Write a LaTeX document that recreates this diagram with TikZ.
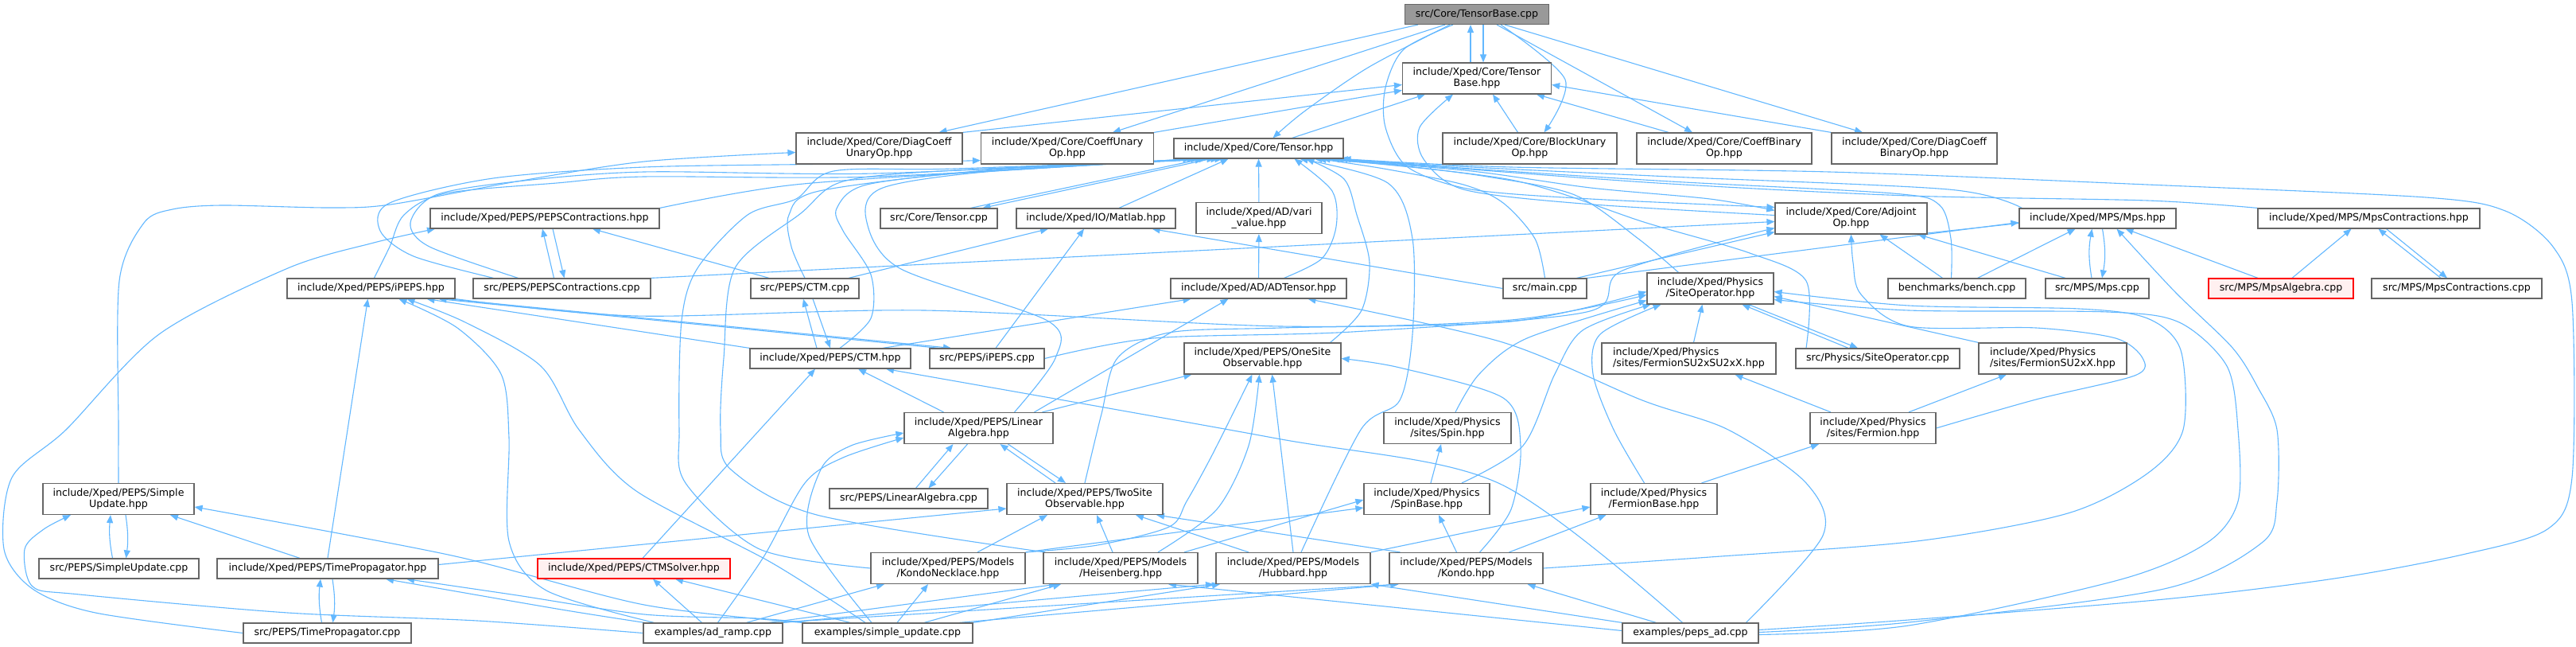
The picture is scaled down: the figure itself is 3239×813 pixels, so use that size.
\documentclass[tikz,border=0pt]{standalone}
\usepackage{fontspec}
\setmainfont{DejaVu Sans}
\usetikzlibrary{arrows.meta}
\definecolor{edgeblue}{HTML}{63B8FF}
\definecolor{boxgray}{HTML}{666666}
\definecolor{rootgray}{HTML}{999999}
\definecolor{redfill}{HTML}{FFF0F0}
\pgfdeclarelayer{bg}
\pgfdeclarelayer{edges}
\pgfsetlayers{bg,edges,main}

\tikzset{
  file/.style={draw=boxgray, line width=1.2pt, fill=white, inner xsep=4pt, inner ysep=2pt,
    minimum height=25pt, align=center, font=\fontsize{12.6}{14}\selectfont},
  twoline/.style={file, minimum height=39pt},
  rootfile/.style={file, fill=rootgray},
  redfile/.style={file, draw=red, fill=redfill},
  dep/.style={draw=edgeblue, line width=1.1pt, -{Triangle[length=10pt,width=8pt]}},
}

\begin{document}
\begin{tikzpicture}[x=1pt, y=-1pt]
  \useasboundingbox (0,0) rectangle (3239,813);
  \begin{pgfonlayer}{bg}
    \fill[white] (0,0) rectangle (3239,813);
  \end{pgfonlayer}

  % root and core headers
  \node[rootfile, minimum width=181pt] (tbc) at (1857,18) {src/Core/TensorBase.cpp};
  \node[twoline, minimum width=187pt] (tbh) at (1857,98.5) {include/Xped/Core/Tensor\\Base.hpp};
  \node[twoline, minimum width=209pt] (dcu) at (1105.5,186.5) {include/Xped/Core/DiagCoeff\\UnaryOp.hpp};
  \node[twoline, minimum width=217pt] (cu) at (1342,186.5) {include/Xped/Core/CoeffUnary\\Op.hpp};
  \node[file, minimum width=213pt] (th) at (1582.5,186.5) {include/Xped/Core/Tensor.hpp};
  \node[twoline, minimum width=219pt] (bu) at (1923.5,186.5) {include/Xped/Core/BlockUnary\\Op.hpp};
  \node[twoline, minimum width=220pt] (cb) at (2168,186.5) {include/Xped/Core/CoeffBinary\\Op.hpp};
  \node[twoline, minimum width=208pt] (dcb) at (2407,186.5) {include/Xped/Core/DiagCoeff\\BinaryOp.hpp};

  % third row
  \node[file, minimum width=288pt] (pch) at (685,274.5) {include/Xped/PEPS/PEPSContractions.hpp};
  \node[file, minimum width=147pt] (tc) at (1180.5,274.5) {src/Core/Tensor.cpp};
  \node[file, minimum width=200pt] (mat) at (1378,274.5) {include/Xped/IO/Matlab.hpp};
  \node[twoline, minimum width=158pt] (vari) at (1583,274) {include/Xped/AD/vari\\\_value.hpp};
  \node[twoline, minimum width=191pt] (adj) at (2327.5,274.5) {include/Xped/Core/Adjoint\\Op.hpp};
  \node[file, minimum width=197pt] (mps) at (2637.5,274.5) {include/Xped/MPS/Mps.hpp};
  \node[file, minimum width=279pt] (mpsc) at (2978.5,274.5) {include/Xped/MPS/MpsContractions.hpp};

  % fourth row
  \node[file, minimum width=211pt] (ipeps) at (466.5,362.5) {include/Xped/PEPS/iPEPS.hpp};
  \node[file, minimum width=223pt] (pcc) at (706.5,362.5) {src/PEPS/PEPSContractions.cpp};
  \node[file, minimum width=136pt] (ctmc) at (1012,362.5) {src/PEPS/CTM.cpp};
  \node[file, minimum width=221pt] (adt) at (1582.5,362.5) {include/Xped/AD/ADTensor.hpp};
  \node[file, minimum width=105pt] (mainc) at (1942.5,362.5) {src/main.cpp};
  \node[twoline, minimum width=159pt] (siteop) at (2150.5,362.5) {include/Xped/Physics\\/SiteOperator.hpp};
  \node[file, minimum width=173pt] (bench) at (2460.5,362.5) {benchmarks/bench.cpp};
  \node[file, minimum width=130pt] (mpscpp) at (2637,362.5) {src/MPS/Mps.cpp};
  \node[redfile, minimum width=182pt] (mpsalg) at (2868,362.5) {src/MPS/MpsAlgebra.cpp};
  \node[file, minimum width=214pt] (mpsccpp) at (3089,362.5) {src/MPS/MpsContractions.cpp};

  % fifth row
  \node[file, minimum width=202pt] (ctmh) at (1044,450.5) {include/Xped/PEPS/CTM.hpp};
  \node[file, minimum width=144pt] (ipepsc) at (1241,450.5) {src/PEPS/iPEPS.cpp};
  \node[twoline, minimum width=197pt] (onesite) at (1587.5,450.5) {include/Xped/PEPS/OneSite\\Observable.hpp};
  \node[twoline, minimum width=219pt, align=left] (fsu2su2) at (2123.5,450.5) {include/Xped/Physics\\/sites/FermionSU2xSU2xX.hpp};
  \node[file, minimum width=206pt] (siteopc) at (2361,450.5) {src/Physics/SiteOperator.cpp};
  \node[twoline, minimum width=186pt, align=left] (fsu2) at (2581,450.5) {include/Xped/Physics\\/sites/FermionSU2xX.hpp};

  % sixth row
  \node[twoline, minimum width=187pt] (linalg) at (1230.5,538) {include/Xped/PEPS/Linear\\Algebra.hpp};
  \node[twoline, minimum width=160pt] (spin) at (1820,538) {include/Xped/Physics\\/sites/Spin.hpp};
  \node[twoline, minimum width=158pt] (fermion) at (2355,538) {include/Xped/Physics\\/sites/Fermion.hpp};

  % seventh row
  \node[twoline, minimum width=190pt] (suh) at (149,627) {include/Xped/PEPS/Simple\\Update.hpp};
  \node[file, minimum width=199pt] (lac) at (1142.5,626.5) {src/PEPS/LinearAlgebra.cpp};
  \node[twoline, minimum width=196pt] (twosite) at (1364,627) {include/Xped/PEPS/TwoSite\\Observable.hpp};
  \node[twoline, minimum width=158pt] (spinbase) at (1794,627) {include/Xped/Physics\\/SpinBase.hpp};
  \node[twoline, minimum width=159pt] (fbase) at (2079.5,627) {include/Xped/Physics\\/FermionBase.hpp};

  % eighth row
  \node[file, minimum width=201pt] (suc) at (149.5,714.5) {src/PEPS/SimpleUpdate.cpp};
  \node[file, minimum width=278pt] (tph) at (412,714.5) {include/Xped/PEPS/TimePropagator.hpp};
  \node[redfile, minimum width=242pt] (ctms) at (797,714.5) {include/Xped/PEPS/CTMSolver.hpp};
  \node[twoline, minimum width=194pt] (kn) at (1192,714) {include/Xped/PEPS/Models\\/KondoNecklace.hpp};
  \node[twoline, minimum width=194pt] (heis) at (1409,714) {include/Xped/PEPS/Models\\/Heisenberg.hpp};
  \node[twoline, minimum width=194pt] (hub) at (1626,714) {include/Xped/PEPS/Models\\/Hubbard.hpp};
  \node[twoline, minimum width=193pt] (kondo) at (1843.5,714) {include/Xped/PEPS/Models\\/Kondo.hpp};

  % bottom row
  \node[file, minimum width=211pt] (tpc) at (411.5,795.5) {src/PEPS/TimePropagator.cpp};
  \node[file, minimum width=175pt] (adramp) at (896.5,795.5) {examples/ad\_ramp.cpp};
  \node[file, minimum width=214pt] (simup) at (1116,795.5) {examples/simple\_update.cpp};
  \node[file, minimum width=171pt] (pepsad) at (2125.5,795.5) {examples/peps\_ad.cpp};

  \begin{pgfonlayer}{edges}
  % TensorBase.cpp and its direct headers
  \draw[dep] ([xshift=8pt]tbc.south) -- ([xshift=8pt]tbh.north);
  \draw[dep] ([xshift=-8pt]tbh.north) -- ([xshift=-8pt]tbc.south);
  \draw[dep] ([xshift=-74pt]tbc.south) -- ([xshift=75pt]dcu.north);
  \draw[dep] ([xshift=-40pt]tbc.south) -- ([xshift=57pt]cu.north);
  \draw[dep] plot[smooth] coordinates {([xshift=-34pt]tbc.south) (1720,85) (1640,140) ([xshift=18pt]th.north)};
  \draw[dep] plot[smooth] coordinates {([xshift=-30pt]tbc.south) (1765,62) (1742,110) (1742,160) (1770,210) (1850,238) (2000,250) ([yshift=14pt]adj.west)};
  \draw[dep] plot[smooth] coordinates {([xshift=30pt]tbc.south) (1968,100) ([xshift=18pt]bu.north)};
  \draw[dep] ([xshift=25pt]tbc.south) -- ([xshift=-40pt]cb.north);
  \draw[dep] ([xshift=35pt]tbc.south) -- ([xshift=-65pt]dcb.north);

  % into TensorBase.hpp
  \draw[dep] (dcu.north east) -- ([yshift=-8pt]tbh.west);
  \draw[dep] (cu.north east) -- ([yshift=-15pt]tbh.west);
  \draw[dep] ([xshift=-65pt]th.north east) -- ([xshift=-65pt]tbh.south);
  \draw[dep] ([xshift=-15pt]bu.north) -- ([xshift=20pt]tbh.south);
  \draw[dep] ([xshift=-70pt]cb.north) -- ([xshift=75pt]tbh.south);
  \draw[dep] (dcb.north west) -- ([yshift=-8pt]tbh.east);
  \draw[dep] plot[smooth] coordinates {([yshift=4pt]adj.west) (1990,256) (1840,238) (1790,200) (1785,160) ([xshift=-30pt]tbh.south)};

  % into Tensor.hpp from the left
  \draw[dep] ([xshift=-60pt]th.south) -- ([xshift=55pt]tc.north);
  \draw[dep] ([xshift=40pt]tc.north) -- ([xshift=-70pt]th.south);
  \draw[dep] ([xshift=29pt]mat.north) -- ([xshift=-38pt]th.south);
  \draw[dep] (vari) -- (th);
  \draw[dep] plot[smooth] coordinates {(pch.north east) (1000,232) (1300,212) ([xshift=-75pt]th.south)};
  \draw[dep] plot[smooth] coordinates {([xshift=-55pt]pcc.north) (540,310) (516,280) (548,245) (650,228) (810,216) (1100,218) ([xshift=-80pt]th.south)};
  \draw[dep] plot[smooth] coordinates {([xshift=4pt]ipeps.north) (490,310) (508,270) (560,243) (700,230) (810,222) (1100,222) ([xshift=-85pt]th.south)};
  \draw[dep] plot[smooth] coordinates {(ctmc.north) (995,310) (992,270) (1030,240) (1250,213) ([xshift=-68pt]th.south)};
  \draw[dep] plot[smooth] coordinates {([xshift=12pt]ctmh.north) (1095,400) (1095,345) (1060,290) (1052,262) (1090,232) (1250,214) ([xshift=-65pt]th.south)};
  \draw[dep] plot[smooth] coordinates {([xshift=45pt]linalg.north) (1327,450) (1317,403) (1131,337) (1089,275) (1110,236) (1250,215) ([xshift=-55pt]th.south)};
  \draw[dep] plot[smooth] coordinates {(kn.west) (955,690) (862,607) (854,540) (857,403) (877,337) (940,270) (1001,250) (1048,215) (1200,212) ([xshift=-50pt]th.south)};
  \draw[dep] plot[smooth] coordinates {([xshift=-95pt]heis.north) (1027,647) (919,590) (906,540) (910,450) (924,337) (1007,268) (1060,228) (1200,214) ([xshift=-45pt]th.south)};

  % into Tensor.hpp from the right
  \draw[dep] plot[smooth] coordinates {([xshift=32pt]adt.north) (1662,325) (1680,285) (1675,240) ([xshift=45pt]th.south)};
  \draw[dep] plot[smooth] coordinates {([xshift=85pt]onesite.north) (1712,390) (1722,330) (1706,270) (1690,225) ([xshift=60pt]th.south)};
  \draw[dep] plot[smooth] coordinates {([xshift=10pt]hub.north) (1711,540) (1760,503) (1776,420) (1776,300) (1745,230) ([xshift=52pt]th.south)};
  \draw[dep] plot[smooth] coordinates {(mainc.north) (1930,300) (1890,255) (1840,232) (1740,212) ([xshift=75pt]th.south)};
  \draw[dep] plot[smooth] coordinates {([xshift=-40pt]siteop.north) (2060,300) (1980,245) (1870,222) (1760,208) ([xshift=70pt]th.south)};
  \draw[dep] plot[smooth] coordinates {([xshift=-90pt]siteopc.north) (2271,353) (2200,318) (2070,280) (1900,226) ([xshift=80pt]th.south)};
  \draw[dep] plot[smooth] coordinates {([xshift=-7pt]bench.north) (2453,300) (2438,257) (2380,243) (2100,228) (1850,212) ([xshift=102pt]th.south)};
  \draw[dep] plot[smooth] coordinates {([xshift=4pt]mps.north west) (2450,238) (2100,222) (1850,210) ([xshift=97pt]th.south)};
  \draw[dep] plot[smooth] coordinates {(mpsc.north west) (2700,252) (2400,246) (2100,231) (1850,213) ([xshift=92pt]th.south)};
  \draw[dep] plot[smooth] coordinates {([yshift=4pt]pepsad.east) (2400,779) (2721,753) (2935,727) (3096,697) (3203,665) (3234,600) (3234,380) (3210,310) (3150,265) (3050,248) (2700,232) (2300,216) (1900,210) ([xshift=106pt]th.south)};
  \draw[dep] plot[smooth] coordinates {([xshift=-25pt]th.south east) (1850,215) (2000,236) (2150,250) ([yshift=10pt]adj.west)};

  % left part: PEPS headers
  \draw[dep] plot[smooth] coordinates {(suh.north) (149,540) (150,353) (181,280) (217,263) (279,258) (413,261) (491,257) (650,228) (810,203) ([yshift=-5pt]dcu.west)};
  \draw[dep] plot[smooth] coordinates {([xshift=-86pt]pcc.north) (520,322) (478,290) (490,255) (620,224) (810,210) (1050,206) ([yshift=5pt]cu.south west)};
  \draw[dep] plot[smooth] coordinates {(tpc.west) (120,770) (41,740) (5,690) (15,600) (83,540) (200,420) (362,337) (470,305) ([xshift=-138pt]pch.south)};
  \draw[dep] ([xshift=-10pt]pcc.north) -- ([xshift=-3pt]pch.south);
  \draw[dep] ([xshift=10pt]pch.south) -- ([xshift=3pt]pcc.north);
  \draw[dep] ([xshift=-45pt]ctmc.north) -- ([xshift=60pt]pch.south);
  \draw[dep] ([xshift=55pt]ctmc.north) -- ([xshift=-60pt]mat.south);
  \draw[dep] ([xshift=11pt]ipepsc.north) -- ([xshift=-15pt]mat.south);
  \draw[dep] (mainc.west) -- ([xshift=-30pt]mat.south east);
  \draw[dep] (adt) -- (vari);
  \draw[dep] ([xshift=-17pt]ctmh.north) -- ([xshift=-2pt]ctmc.south);
  \draw[dep] ([xshift=10pt]ctmc.south) -- (ctmh.north);
  \draw[dep] (ctmh.north west) -- ([xshift=70pt]ipeps.south);
  \draw[dep] ([xshift=95pt]ipeps.south) -- ([xshift=-45pt]ipepsc.north);
  \draw[dep] ([xshift=-60pt]ipepsc.north) -- ([xshift=85pt]ipeps.south);
  \draw[dep] ([xshift=66pt]ctmh.north) -- ([xshift=-85pt]adt.south);
  \draw[dep] ([xshift=70pt]linalg.north) -- ([xshift=-38pt]adt.south);

  % towards AdjointOp and SiteOperator
  \draw[dep] (pcc.north east) -- ([yshift=-4pt]adj.west);
  \draw[dep] ([xshift=40pt]mainc.north) -- ([yshift=-17pt]adj.west);
  \draw[dep] plot[smooth] coordinates {(ipepsc.east) (1450,425) (1700,417) (1995,392) (2040,340) ([yshift=-12pt]adj.west)};
  \draw[dep] plot[smooth] coordinates {(ipeps.south east) (800,397) (1162,390) (1610,410) (1900,402) ([yshift=-8pt]siteop.west)};
  \draw[dep] plot[smooth] coordinates {(twosite.north) (1385,520) (1405,450) (1470,418) (1610,412) (1900,404) ([yshift=-4pt]siteop.west)};
  \draw[dep] ([yshift=-6pt]mps.west) -- ([xshift=-15pt]adj.south east);
  \draw[dep] ([xshift=-40pt]mpscpp.north) -- ([xshift=-12pt]adj.south east);
  \draw[dep] ([xshift=-18pt]bench.north) -- ([xshift=36pt]adj.south);
  \draw[dep] plot[smooth] coordinates {(fermion.east) (2560,502) (2684,472) (2694,450) (2660,425) (2560,412) (2400,410) (2340,370) (2330,330) (adj.south)};

  % MPS part
  \draw[dep] (mainc.north east) -- ([yshift=-5pt]mps.west);
  \draw[dep] ([xshift=26pt]bench.north) -- ([xshift=-28pt]mps.south);
  \draw[dep] ([xshift=-7pt]mpscpp.north) to[bend left=10] ([xshift=-7pt]mps.south);
  \draw[dep] ([xshift=6pt]mps.south) to[bend left=10] ([xshift=6pt]mpscpp.north);
  \draw[dep] ([xshift=-29pt]mpsalg.north) -- ([xshift=35pt]mps.south);
  \draw[dep] ([xshift=14pt]mpsalg.north) -- ([xshift=-22pt]mpsc.south);
  \draw[dep] ([xshift=-20pt]mpsccpp.north) -- ([xshift=12pt]mpsc.south);
  \draw[dep] ([xshift=22pt]mpsc.south) -- ([xshift=-12pt]mpsccpp.north);
  \draw[dep] plot[smooth] coordinates {([yshift=1pt]pepsad.east) (2400,782) (2721,740) (2844,682) (2863,630) (2863,540) (2839,487) (2807,437) (2735,367) ([xshift=24pt]mps.south)};

  % Physics headers
  \draw[dep] plot[smooth] coordinates {([yshift=-2pt]pepsad.east) (2400,786) (2667,728) (2775,682) (2814,630) (2814,540) (2800,460) (2740,405) (2650,392) (2400,390) ([yshift=-14pt]siteop.east)};
  \draw[dep] plot[smooth] coordinates {(kondo.east) (2150,700) (2410,680) (2600,645) (2700,595) (2745,540) (2742,440) (2700,400) (2614,388) (2400,384) ([yshift=-4pt]siteop.east)};
  \draw[dep] (fsu2.north west) -- ([yshift=-10pt]siteop.east);
  \draw[dep] ([xshift=6pt]fsu2su2.north) -- ([xshift=-10pt]siteop.south);
  \draw[dep] ([xshift=48pt]siteop.south) -- ([xshift=-25pt]siteopc.north);
  \draw[dep] ([xshift=-37pt]siteopc.north) -- ([xshift=40pt]siteop.south);
  \draw[dep] plot[smooth] coordinates {([xshift=10pt]spin.north) (1860,470) (1920,425) ([yshift=-15pt]siteop.west)};
  \draw[dep] plot[smooth] coordinates {([xshift=44pt]spinbase.north) (1915,560) (1955,470) (1990,415) ([xshift=-75pt]siteop.south)};
  \draw[dep] plot[smooth] coordinates {([xshift=-12pt]fbase.north) (2029,540) (2003,470) (2012,420) ([xshift=-62pt]siteop.south)};
  \draw[dep] ([xshift=-53pt]fermion.north) -- ([xshift=58pt]fsu2su2.south);
  \draw[dep] ([xshift=45pt]fermion.north) -- ([xshift=-58pt]fsu2.south);
  \draw[dep] ([xshift=60pt]fbase.north) -- ([xshift=-68pt]fermion.south);
  \draw[dep] ([xshift=5pt]spinbase.north) -- ([xshift=-8pt]spin.south);
  \draw[dep] plot[smooth] coordinates {([xshift=70pt]pepsad.north) (2292,673) (2271,607) (2173,540) (2065,503) (1889,430) ([xshift=62pt]adt.south)};

  % observables and linear algebra
  \draw[dep] ([xshift=9pt]lac.north) -- ([xshift=-32pt]linalg.south);
  \draw[dep] ([xshift=-14pt]linalg.south) -- ([xshift=25pt]lac.north);
  \draw[dep] ([xshift=-37pt]twosite.north) -- ([xshift=27pt]linalg.south);
  \draw[dep] ([xshift=37pt]linalg.south) -- ([xshift=-24pt]twosite.north);
  \draw[dep] ([xshift=80pt]linalg.north) -- ([xshift=10pt]onesite.south west);
  \draw[dep] ([xshift=-44pt]linalg.north) -- ([xshift=35pt]ctmh.south);
  \draw[dep] ([xshift=11pt]ctms.north) -- ([xshift=-19pt]ctmh.south);
  \draw[dep] plot[smooth] coordinates {([xshift=-10pt]pepsad.north) (1884,607) (1600,550) ([xshift=70pt]ctmh.south)};
  \draw[dep] plot[smooth] coordinates {(kn.north east) (1380,685) (1470,662) (1492,630) (1525,570) ([xshift=-13pt]onesite.south)};
  \draw[dep] plot[smooth] coordinates {([xshift=47pt]heis.north) (1530,640) (1570,560) ([xshift=-4pt]onesite.south)};
  \draw[dep] (hub.north) -- ([xshift=12pt]onesite.south);
  \draw[dep] plot[smooth] coordinates {([xshift=17pt]kondo.north) (1900,640) (1912,560) (1890,500) (1760,462) (onesite.east)};
  \draw[dep] ([xshift=37pt]kn.north) -- ([xshift=-47pt]twosite.south);
  \draw[dep] ([xshift=-10pt]heis.north) -- ([xshift=15pt]twosite.south);
  \draw[dep] ([xshift=-56pt]hub.north) -- ([xshift=64pt]twosite.south);
  \draw[dep] ([xshift=-83pt]kondo.north) -- ([xshift=90pt]twosite.south);
  \draw[dep] ([yshift=5pt]tph.east) -- ([yshift=-12pt]twosite.west);

  % model headers
  \draw[dep] (kn.north east) -- ([yshift=-11pt]spinbase.west);
  \draw[dep] ([xshift=80pt]heis.north) -- ([yshift=-1pt]spinbase.west);
  \draw[dep] ([xshift=-12pt]kondo.north) -- ([xshift=15pt]spinbase.south);
  \draw[dep] (hub.north east) -- ([yshift=-10pt]fbase.west);
  \draw[dep] ([xshift=54pt]kondo.north) -- ([xshift=-60pt]fbase.south);

  % SimpleUpdate and TimePropagator
  \draw[dep] ([xshift=-8pt]suc.north) to[bend left=8] ([xshift=-10pt]suh.south);
  \draw[dep] ([xshift=9pt]suh.south) to[bend left=8] ([xshift=9pt]suc.north);
  \draw[dep] ([xshift=-35pt]tph.north) -- ([xshift=65pt]suh.south);
  \draw[dep] ([xshift=-7pt]tpc.north) to[bend left=8] ([xshift=-9pt]tph.south);
  \draw[dep] ([xshift=6pt]tph.south) to[bend left=8] ([xshift=7pt]tpc.north);
  \draw[dep] (tph.north) -- ([xshift=-4pt]ipeps.south);

  % examples
  \draw[dep] plot[smooth] coordinates {(adramp.west) (600,780) (362,770) (100,747) (41,737) (31,690) (55,665) ([xshift=-60pt]suh.south)};
  \draw[dep] plot[smooth] coordinates {(simup.north west) (810,760) (568,698) ([yshift=-10pt]suh.east)};
  \draw[dep] plot[smooth] coordinates {([xshift=-74pt]adramp.north) (687,742) (640,680) (640,550) (630,470) (575,412) ([xshift=35pt]ipeps.south)};
  \draw[dep] plot[smooth] coordinates {([xshift=-28pt]simup.north) (970,707) (800,617) (728,540) (680,460) (585,405) ([xshift=45pt]ipeps.south)};
  \draw[dep] plot[smooth] coordinates {([xshift=-86pt]adramp.north) (700,765) ([xshift=73pt]tph.south)};
  \draw[dep] plot[smooth] coordinates {([xshift=6pt]simup.north west) (950,777) (810,772) (650,748) ([xshift=99pt]tph.south)};
  \draw[dep] plot[smooth] coordinates {([xshift=6pt]adramp.north) (960,700) (1012,607) (1060,575) ([yshift=-12pt]linalg.west)};
  \draw[dep] plot[smooth] coordinates {([xshift=-20pt]simup.north) (1017,673) (1032,590) (1070,560) ([yshift=-6pt]linalg.west)};
  \draw[dep] ([xshift=-14pt]adramp.north) -- ([xshift=24pt]ctms.south);
  \draw[dep] ([xshift=-47pt]simup.north) -- ([xshift=52pt]ctms.south);
  \draw[dep] ([xshift=42pt]adramp.north) -- ([xshift=-80pt]kn.south);
  \draw[dep] ([xshift=12pt]simup.north) -- ([xshift=-25pt]kn.south);
  \draw[dep] ([xshift=70pt]adramp.north) -- ([xshift=-80pt]heis.south);
  \draw[dep] ([xshift=46pt]simup.north) -- ([xshift=-75pt]heis.south);
  \draw[dep] (adramp.north east) -- ([xshift=-100pt]hub.south);
  \draw[dep] (simup.north east) -- ([xshift=-92pt]hub.south);
  \draw[dep] ([xshift=80pt]adramp.north) -- ([xshift=12pt]kondo.south west);
  \draw[dep] ([xshift=90pt]simup.north) -- ([xshift=12pt]kondo.south west);
  \draw[dep] ([yshift=3pt]pepsad.west) -- ([xshift=60pt]heis.south);
  \draw[dep] (pepsad.north west) -- (hub.south east);
  \draw[dep] ([xshift=-43pt]pepsad.north) -- ([xshift=-20pt]kondo.south east);
  \end{pgfonlayer}
\end{tikzpicture}
\end{document}
